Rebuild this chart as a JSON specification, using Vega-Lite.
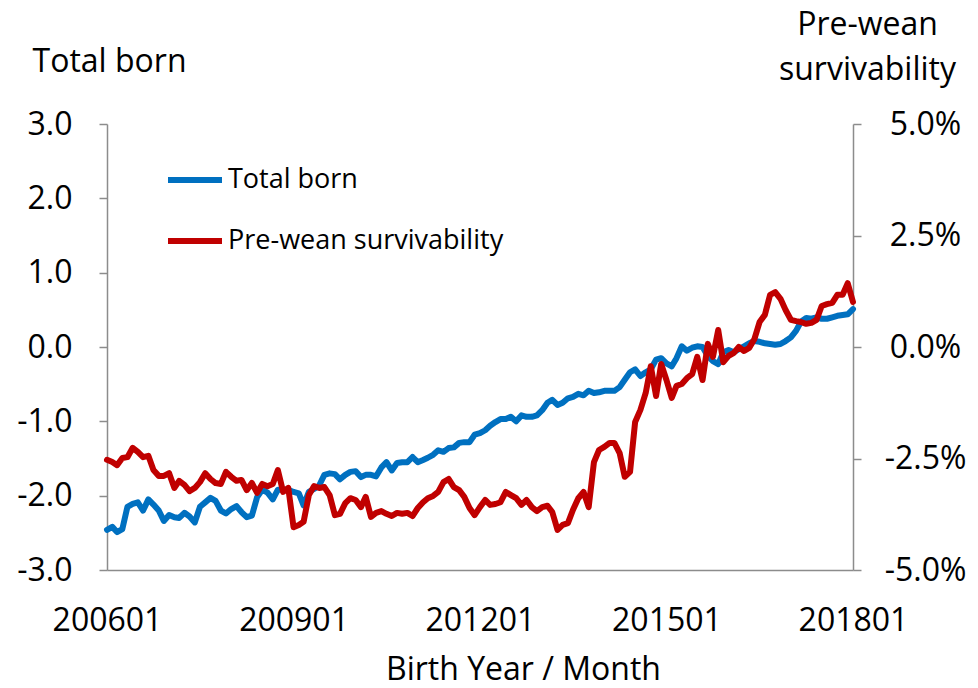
{
  "$schema": "https://vega.github.io/schema/vega-lite/v6.json",
  "width": 746,
  "height": 446,
  "autosize": {"type": "none"},
  "padding": {"left": 107, "top": 124, "right": 125, "bottom": 118},
  "background": "white",
  "config": {
    "font": "Open Sans",
    "view": {"stroke": null},
    "axis": {
      "labelFont": "Open Sans", "labelFontSize": 32, "labelColor": "#000000",
      "titleFont": "Open Sans", "titleFontSize": 32, "titleFontWeight": "normal", "titleColor": "#000000",
      "domainColor": "#8c8c8c", "tickColor": "#8c8c8c", "domainWidth": 1.5, "tickWidth": 1.5, "grid": false
    },
    "legend": {"labelFont": "Open Sans"}
  },
  "data": {"values": [
    {"month":"2006-01","tb":-2.46,"pw":-2.53},{"month":"2006-02","tb":-2.42,"pw":-2.58},{"month":"2006-03","tb":-2.49,"pw":-2.65},{"month":"2006-04","tb":-2.45,"pw":-2.49},{"month":"2006-05","tb":-2.15,"pw":-2.47},{"month":"2006-06","tb":-2.11,"pw":-2.26},{"month":"2006-07","tb":-2.09,"pw":-2.35},{"month":"2006-08","tb":-2.20,"pw":-2.47},{"month":"2006-09","tb":-2.05,"pw":-2.44},{"month":"2006-10","tb":-2.12,"pw":-2.76},{"month":"2006-11","tb":-2.20,"pw":-2.89},{"month":"2006-12","tb":-2.34,"pw":-2.89},
    {"month":"2007-01","tb":-2.26,"pw":-2.83},{"month":"2007-02","tb":-2.29,"pw":-3.16},{"month":"2007-03","tb":-2.30,"pw":-3.00},{"month":"2007-04","tb":-2.23,"pw":-3.09},{"month":"2007-05","tb":-2.28,"pw":-3.23},{"month":"2007-06","tb":-2.36,"pw":-3.16},{"month":"2007-07","tb":-2.15,"pw":-3.03},{"month":"2007-08","tb":-2.09,"pw":-2.83},{"month":"2007-09","tb":-2.03,"pw":-2.96},{"month":"2007-10","tb":-2.07,"pw":-3.05},{"month":"2007-11","tb":-2.20,"pw":-3.07},{"month":"2007-12","tb":-2.24,"pw":-2.80},
    {"month":"2008-01","tb":-2.18,"pw":-2.91},{"month":"2008-02","tb":-2.14,"pw":-3.00},{"month":"2008-03","tb":-2.22,"pw":-2.98},{"month":"2008-04","tb":-2.29,"pw":-3.21},{"month":"2008-05","tb":-2.27,"pw":-3.05},{"month":"2008-06","tb":-2.02,"pw":-3.27},{"month":"2008-07","tb":-1.92,"pw":-3.07},{"month":"2008-08","tb":-1.96,"pw":-3.12},{"month":"2008-09","tb":-2.05,"pw":-3.07},{"month":"2008-10","tb":-1.92,"pw":-2.76},{"month":"2008-11","tb":-1.92,"pw":-3.25},{"month":"2008-12","tb":-1.92,"pw":-3.16},
    {"month":"2009-01","tb":-1.95,"pw":-4.04},{"month":"2009-02","tb":-1.97,"pw":-3.99},{"month":"2009-03","tb":-2.13,"pw":-3.92},{"month":"2009-04","tb":-1.95,"pw":-3.32},{"month":"2009-05","tb":-1.91,"pw":-3.12},{"month":"2009-06","tb":-1.86,"pw":-3.16},{"month":"2009-07","tb":-1.72,"pw":-3.14},{"month":"2009-08","tb":-1.70,"pw":-3.32},{"month":"2009-09","tb":-1.71,"pw":-3.77},{"month":"2009-10","tb":-1.78,"pw":-3.74},{"month":"2009-11","tb":-1.72,"pw":-3.50},{"month":"2009-12","tb":-1.68,"pw":-3.39},
    {"month":"2010-01","tb":-1.67,"pw":-3.43},{"month":"2010-02","tb":-1.75,"pw":-3.59},{"month":"2010-03","tb":-1.72,"pw":-3.36},{"month":"2010-04","tb":-1.72,"pw":-3.81},{"month":"2010-05","tb":-1.74,"pw":-3.72},{"month":"2010-06","tb":-1.62,"pw":-3.68},{"month":"2010-07","tb":-1.55,"pw":-3.74},{"month":"2010-08","tb":-1.66,"pw":-3.79},{"month":"2010-09","tb":-1.56,"pw":-3.72},{"month":"2010-10","tb":-1.55,"pw":-3.74},{"month":"2010-11","tb":-1.55,"pw":-3.72},{"month":"2010-12","tb":-1.48,"pw":-3.79},
    {"month":"2011-01","tb":-1.55,"pw":-3.61},{"month":"2011-02","tb":-1.52,"pw":-3.48},{"month":"2011-03","tb":-1.49,"pw":-3.39},{"month":"2011-04","tb":-1.45,"pw":-3.34},{"month":"2011-05","tb":-1.39,"pw":-3.25},{"month":"2011-06","tb":-1.41,"pw":-3.03},{"month":"2011-07","tb":-1.36,"pw":-2.96},{"month":"2011-08","tb":-1.35,"pw":-3.14},{"month":"2011-09","tb":-1.29,"pw":-3.21},{"month":"2011-10","tb":-1.28,"pw":-3.36},{"month":"2011-11","tb":-1.28,"pw":-3.61},{"month":"2011-12","tb":-1.18,"pw":-3.77},
    {"month":"2012-01","tb":-1.16,"pw":-3.59},{"month":"2012-02","tb":-1.12,"pw":-3.43},{"month":"2012-03","tb":-1.06,"pw":-3.54},{"month":"2012-04","tb":-1.01,"pw":-3.52},{"month":"2012-05","tb":-0.97,"pw":-3.48},{"month":"2012-06","tb":-0.97,"pw":-3.25},{"month":"2012-07","tb":-0.94,"pw":-3.32},{"month":"2012-08","tb":-1.00,"pw":-3.39},{"month":"2012-09","tb":-0.92,"pw":-3.54},{"month":"2012-10","tb":-0.94,"pw":-3.43},{"month":"2012-11","tb":-0.94,"pw":-3.59},{"month":"2012-12","tb":-0.92,"pw":-3.68},
    {"month":"2013-01","tb":-0.85,"pw":-3.59},{"month":"2013-02","tb":-0.75,"pw":-3.56},{"month":"2013-03","tb":-0.71,"pw":-3.70},{"month":"2013-04","tb":-0.78,"pw":-4.10},{"month":"2013-05","tb":-0.75,"pw":-3.99},{"month":"2013-06","tb":-0.69,"pw":-3.95},{"month":"2013-07","tb":-0.67,"pw":-3.65},{"month":"2013-08","tb":-0.63,"pw":-3.39},{"month":"2013-09","tb":-0.65,"pw":-3.25},{"month":"2013-10","tb":-0.59,"pw":-3.59},{"month":"2013-11","tb":-0.62,"pw":-2.58},{"month":"2013-12","tb":-0.61,"pw":-2.31},
    {"month":"2014-01","tb":-0.59,"pw":-2.24},{"month":"2014-02","tb":-0.59,"pw":-2.15},{"month":"2014-03","tb":-0.59,"pw":-2.15},{"month":"2014-04","tb":-0.54,"pw":-2.38},{"month":"2014-05","tb":-0.44,"pw":-2.91},{"month":"2014-06","tb":-0.34,"pw":-2.80},{"month":"2014-07","tb":-0.30,"pw":-1.68},{"month":"2014-08","tb":-0.39,"pw":-1.41},{"month":"2014-09","tb":-0.34,"pw":-1.03},{"month":"2014-10","tb":-0.30,"pw":-0.43},{"month":"2014-11","tb":-0.17,"pw":-1.10},{"month":"2014-12","tb":-0.15,"pw":-0.38},
    {"month":"2015-01","tb":-0.22,"pw":-0.74},{"month":"2015-02","tb":-0.26,"pw":-1.14},{"month":"2015-03","tb":-0.15,"pw":-0.87},{"month":"2015-04","tb":0.01,"pw":-0.83},{"month":"2015-05","tb":-0.05,"pw":-0.70},{"month":"2015-06","tb":-0.01,"pw":-0.61},{"month":"2015-07","tb":0.01,"pw":-0.22},{"month":"2015-08","tb":0.00,"pw":-0.74},{"month":"2015-09","tb":-0.12,"pw":0.07},{"month":"2015-10","tb":-0.19,"pw":-0.22},{"month":"2015-11","tb":-0.23,"pw":0.38},{"month":"2015-12","tb":-0.07,"pw":-0.34},
    {"month":"2016-01","tb":-0.04,"pw":-0.20},{"month":"2016-02","tb":-0.07,"pw":-0.13},{"month":"2016-03","tb":-0.03,"pw":0.00},{"month":"2016-04","tb":0.01,"pw":-0.09},{"month":"2016-05","tb":0.05,"pw":-0.02},{"month":"2016-06","tb":0.08,"pw":0.18},{"month":"2016-07","tb":0.07,"pw":0.56},{"month":"2016-08","tb":0.05,"pw":0.72},{"month":"2016-09","tb":0.04,"pw":1.17},{"month":"2016-10","tb":0.03,"pw":1.23},{"month":"2016-11","tb":0.04,"pw":1.08},{"month":"2016-12","tb":0.08,"pw":0.83},
    {"month":"2017-01","tb":0.13,"pw":0.61},{"month":"2017-02","tb":0.22,"pw":0.58},{"month":"2017-03","tb":0.34,"pw":0.56},{"month":"2017-04","tb":0.39,"pw":0.52},{"month":"2017-05","tb":0.38,"pw":0.54},{"month":"2017-06","tb":0.40,"pw":0.61},{"month":"2017-07","tb":0.38,"pw":0.92},{"month":"2017-08","tb":0.38,"pw":0.96},{"month":"2017-09","tb":0.40,"pw":0.99},{"month":"2017-10","tb":0.42,"pw":1.17},{"month":"2017-11","tb":0.43,"pw":1.17},{"month":"2017-12","tb":0.44,"pw":1.43},
    {"month":"2018-01","tb":0.51,"pw":1.01}
  ]},
  "encoding": {
    "x": {
      "field": "month", "type": "temporal",
      "scale": {"type": "utc", "nice": false, "domain": [{"year": 2006, "month": 1, "date": 1, "utc": true}, {"year": 2018, "month": 1, "date": 1, "utc": true}]},
      "axis": {
        "values": [{"year": 2006, "month": 1, "date": 1, "utc": true}, {"year": 2009, "month": 1, "date": 1, "utc": true}, {"year": 2012, "month": 1, "date": 1, "utc": true}, {"year": 2015, "month": 1, "date": 1, "utc": true}, {"year": 2018, "month": 1, "date": 1, "utc": true}],
        "labelExpr": "utcFormat(datum.value, '%Y%m')",
        "ticks": false, "tickSize": 0, "labelPadding": 35, "labelFlush": false, "labelOverlap": false,
        "title": "Birth Year / Month", "titleX": 416, "titleY": 109, "titleAlign": "center", "titleBaseline": "alphabetic"
      }
    },
    "color": {
      "datum": "Total born", "type": "nominal",
      "scale": {"domain": ["Total born", "Pre-wean survivability"], "range": ["#0070C0", "#C00000"]},
      "legend": {
        "orient": "none", "legendX": 58, "legendY": 26, "title": null, "padding": 0,
        "symbolType": "stroke", "symbolSize": 2916, "symbolStrokeWidth": 6,
        "labelFontSize": 27, "labelColor": "#000000", "labelOffset": 3, "rowPadding": 18, "labelLimit": 400
      }
    }
  },
  "layer": [
    {
      "mark": {"type": "line", "strokeWidth": 6, "strokeJoin": "round", "strokeCap": "round"},
      "encoding": {
        "y": {
          "field": "tb", "type": "quantitative",
          "scale": {"domain": [-3, 3], "nice": false, "zero": false},
          "axis": {
            "orient": "left", "values": [-3, -2, -1, 0, 1, 2, 3], "tickSize": 8, "labelPadding": 27,
            "labelExpr": "(datum.value < 0 ? '-' : '') + format(abs(datum.value), '.1f')",
            "title": "Total born", "titleAngle": 0, "titleX": 2, "titleY": -53, "titleAlign": "center", "titleBaseline": "alphabetic"
          }
        }
      }
    },
    {
      "mark": {"type": "line", "strokeWidth": 6, "strokeJoin": "round", "strokeCap": "round"},
      "encoding": {
        "color": {"datum": "Pre-wean survivability", "type": "nominal"},
        "y": {
          "field": "pw", "type": "quantitative",
          "scale": {"domain": [-5, 5], "nice": false, "zero": false},
          "axis": {
            "orient": "right", "values": [-5, -2.5, 0, 2.5, 5], "tickSize": 8, "labelPadding": 64, "labelAlign": "center",
            "labelExpr": "(datum.value < 0 ? '-' : '') + format(abs(datum.value), '.1f') + '%'",
            "title": ["Pre-wean", "survivability"], "titleAngle": 0, "titleX": 14, "titleY": -90, "titleAlign": "center", "titleBaseline": "alphabetic", "titleLineHeight": 45
          }
        }
      }
    }
  ],
  "resolve": {"scale": {"y": "independent"}}
}
